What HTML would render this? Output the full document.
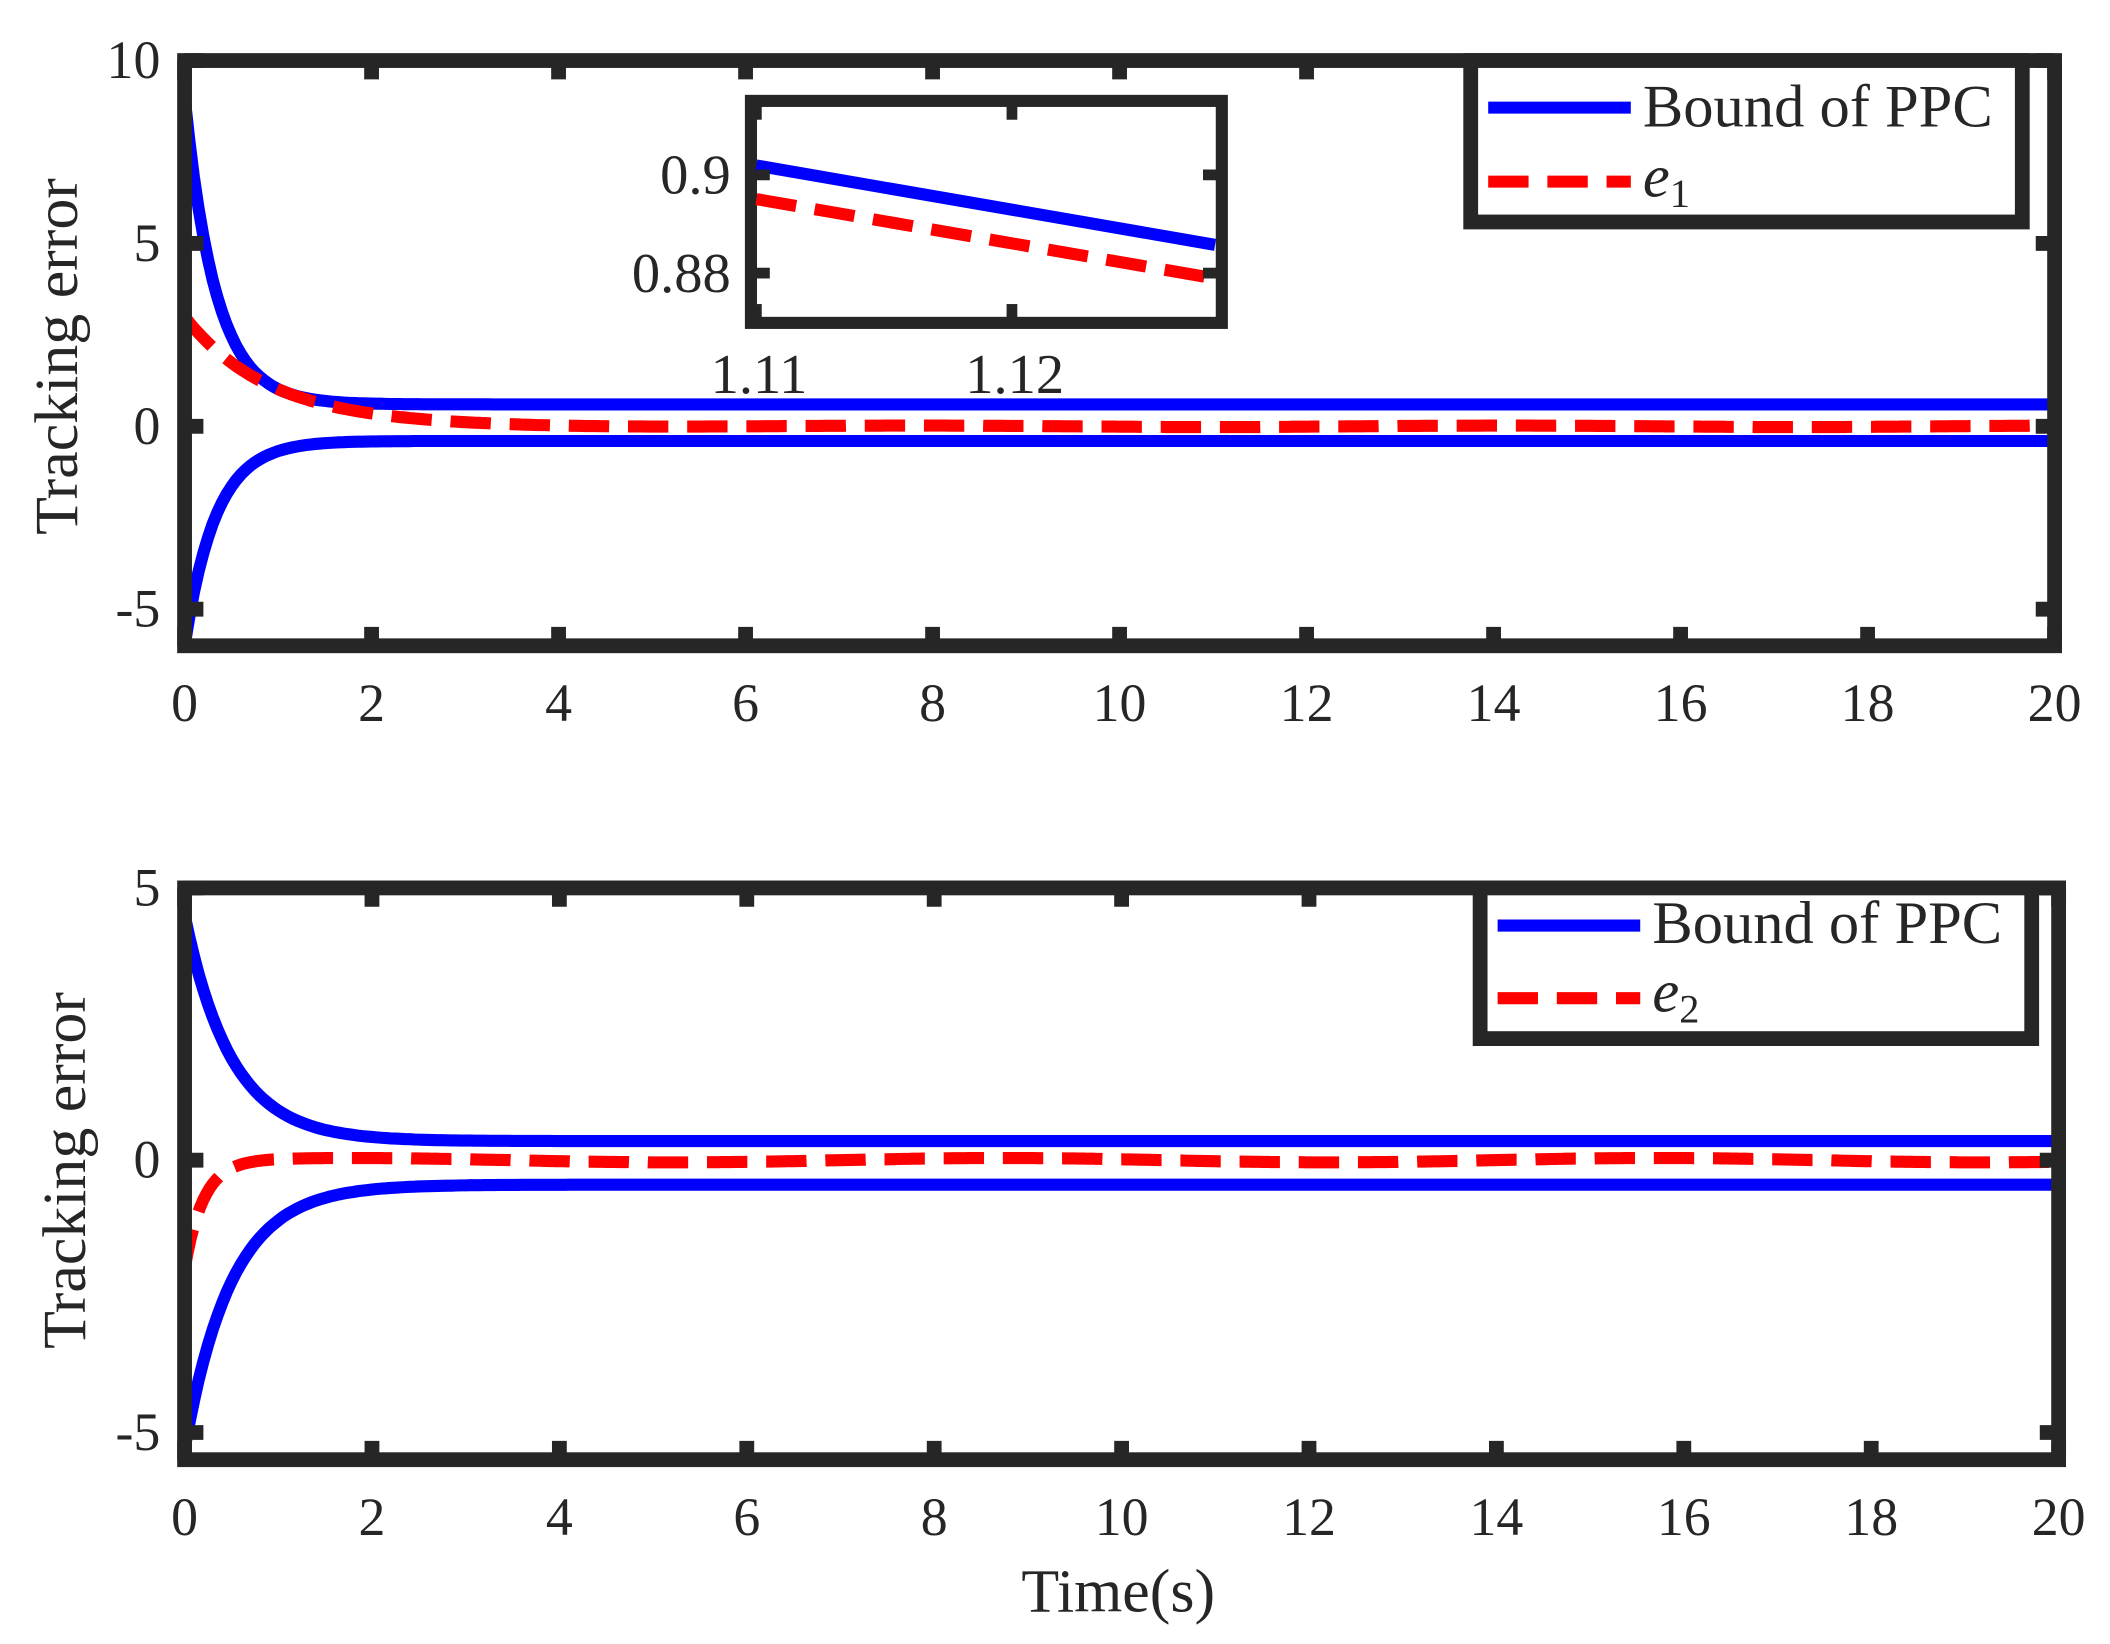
<!DOCTYPE html>
<html><head><style>html,body{margin:0;padding:0;background:#fff}svg{display:block}</style></head><body>
<svg width="2110" height="1644" viewBox="0 0 1568 1222" xmlns="http://www.w3.org/2000/svg" font-family="Liberation Serif, serif" fill="#262626">
<rect width="1568" height="1222" fill="#fff"/>
</svg>
<script>
const NS="http://www.w3.org/2000/svg",svg=document.querySelector('svg');
function el(t,a,txt){const e=document.createElementNS(NS,t);for(const k in a)e.setAttribute(k,a[k]);if(txt!==undefined)e.textContent=txt;svg.appendChild(e);return e;}
function path(f,X,Y,n){let d='';for(let i=0;i<=n;i++){const t=20*i/n;d+=(i?'L':'M')+X(t).toFixed(1)+' '+Y(f(t)).toFixed(1);}return d;}
function axes(L,R,T,B,ymin,ymax,yt){
 const X=t=>L+(R-L)*t/20,Y=v=>B-(B-T)*(v-ymin)/(ymax-ymin);
 return {X,Y,draw(){
  for(let t=0;t<=20;t+=2){const x=X(t);el('line',{x1:x,x2:x,y1:B,y2:B-14,stroke:'#262626','stroke-width':11});el('line',{x1:x,x2:x,y1:T,y2:T+14,stroke:'#262626','stroke-width':11});el('text',{x:x,y:B+56,'font-size':40,'text-anchor':'middle'},t);}
  yt.forEach(v=>{const y=Y(v);el('line',{x1:L,x2:L+14,y1:y,y2:y,stroke:'#262626','stroke-width':11});el('line',{x1:R,x2:R-14,y1:y,y2:y,stroke:'#262626','stroke-width':11});el('text',{x:L-18,y:y+13,'font-size':40,'text-anchor':'end'},v);});
  el('rect',{x:L,y:T,width:R-L,height:B-T,fill:'none',stroke:'#262626','stroke-width':11});
 }};
}
let a=axes(137,1527,45,480,-6,10,[-5,0,5,10]);
el('path',{d:path(t=>8.4*Math.exp(-3*t)+0.6,a.X,a.Y,400),fill:'none',stroke:'#0000ff','stroke-width':9});
el('path',{d:path(t=>-5.6*Math.exp(-3*t)-0.4,a.X,a.Y,400),fill:'none',stroke:'#0000ff','stroke-width':9});
el('path',{d:path(t=>3*Math.exp(-1.1*t)+0.02*Math.sin(t),a.X,a.Y,400),fill:'none',stroke:'#ff0000','stroke-width':9,'stroke-dasharray':'30 14'});
a.draw();
el('rect',{x:558,y:75,width:350,height:165,fill:'#fff',stroke:'#262626','stroke-width':9});
el('line',{x1:562,y1:123,x2:903,y2:182,stroke:'#0000ff','stroke-width':9});
el('line',{x1:562,y1:148,x2:903,y2:207,stroke:'#ff0000','stroke-width':9,'stroke-dasharray':'30 14'});
[562,752].forEach(x=>{el('line',{x1:x,x2:x,y1:236,y2:226,stroke:'#262626','stroke-width':8});el('line',{x1:x,x2:x,y1:79,y2:89,stroke:'#262626','stroke-width':8});});
[130,203].forEach(y=>{el('line',{x1:562,x2:572,y1:y,y2:y,stroke:'#262626','stroke-width':8});el('line',{x1:904,x2:894,y1:y,y2:y,stroke:'#262626','stroke-width':8});});
el('text',{x:543,y:144,'font-size':42,'text-anchor':'end'},'0.9');
el('text',{x:543,y:217,'font-size':42,'text-anchor':'end'},'0.88');
el('text',{x:564,y:292,'font-size':42,'text-anchor':'middle'},'1.11');
el('text',{x:754,y:292,'font-size':42,'text-anchor':'middle'},'1.12');
el('rect',{x:1093,y:45,width:410,height:120,fill:'#fff',stroke:'#262626','stroke-width':11});
el('line',{x1:1106,x2:1212,y1:80,y2:80,stroke:'#0000ff','stroke-width':9});
el('line',{x1:1106,x2:1212,y1:135,y2:135,stroke:'#ff0000','stroke-width':9,'stroke-dasharray':'30 14'});
el('text',{x:1221,y:94,'font-size':45},'Bound of PPC');
el('text',{x:1221,y:146,'font-size':45,'font-style':'italic'},'e');
el('text',{x:1241,y:154,'font-size':30},'1');
el('text',{x:0,y:0,'font-size':46,'text-anchor':'middle',transform:'translate(57,265) rotate(-90)'},'Tracking error');
let b=axes(137,1530,660,1085,-5.5,5,[-5,0,5]);
el('path',{d:path(t=>4.15*Math.exp(-2*t)+0.35,b.X,b.Y,400),fill:'none',stroke:'#0000ff','stroke-width':9});
el('path',{d:path(t=>-4.85*Math.exp(-2*t)-0.45,b.X,b.Y,400),fill:'none',stroke:'#0000ff','stroke-width':9});
el('path',{d:path(t=>-2*Math.exp(-5*t)+0.04*Math.sin(t*0.9),b.X,b.Y,600),fill:'none',stroke:'#ff0000','stroke-width':9,'stroke-dasharray':'30 14'});
b.draw();
el('rect',{x:1100,y:660,width:410,height:112,fill:'#fff',stroke:'#262626','stroke-width':11});
el('line',{x1:1113,x2:1219,y1:688,y2:688,stroke:'#0000ff','stroke-width':9});
el('line',{x1:1113,x2:1219,y1:742,y2:742,stroke:'#ff0000','stroke-width':9,'stroke-dasharray':'30 14'});
el('text',{x:1228,y:701,'font-size':45},'Bound of PPC');
el('text',{x:1228,y:752,'font-size':45,'font-style':'italic'},'e');
el('text',{x:1248,y:760,'font-size':30},'2');
el('text',{x:0,y:0,'font-size':46,'text-anchor':'middle',transform:'translate(63,870) rotate(-90)'},'Tracking error');
el('text',{x:831,y:1198,'font-size':46,'text-anchor':'middle'},'Time(s)');
</script>
</body></html>
